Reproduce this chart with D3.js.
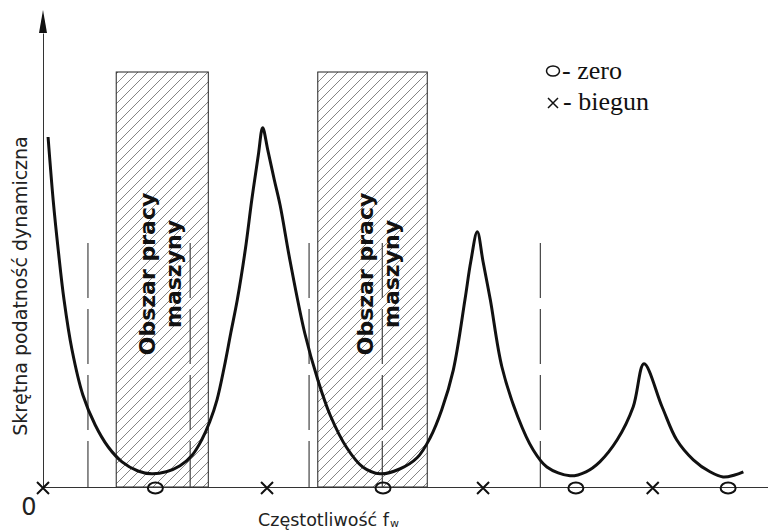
<!DOCTYPE html>
<html>
<head>
<meta charset="utf-8">
<script src="https://cdn.jsdelivr.net/npm/d3@7"></script>
<style>
  body { margin: 0; background: #fff; }
  svg { display: block; }
</style>
</head>
<body>
<div id="chart"></div>
<script>
const width = 768;
const height = 530;

// frequency (relative units) and torsional dynamic compliance
const freq = [0.7, 1.4, 2.1, 2.9, 4.0, 5.5, 7.2, 9.0, 10.9, 13.1, 15.0, 17.0, 18.9, 20.6, 21.9, 23.0, 24.0,
  25.0, 25.9, 26.8, 27.9, 28.8, 29.7, 30.3, 31.0, 31.9, 32.7, 34.1, 36.1, 37.9, 39.6, 41.9, 44.1, 46.5,
  49.2, 51.6, 53.4, 55.0, 56.6, 58.2, 59.0, 59.9, 60.7, 61.7, 63.3, 65.5, 67.6, 69.5, 72.7, 74.9, 76.8,
  79.2, 81.4, 82.9, 85.4, 87.4, 89.7, 92.0, 93.8, 95.4, 96.6];
const compliance = [87.5, 71.8, 59.3, 46.8, 34.3, 23.0, 15.5, 10.0, 6.3, 4.0, 3.3, 3.8, 5.3, 8.0, 11.8, 16.3, 21.8,
  30.0, 38.5, 46.8, 59.3, 71.8, 83.0, 89.8, 84.3, 76.8, 70.5, 56.3, 38.5, 26.8, 18.0, 9.8, 5.0, 3.3,
  4.5, 7.3, 12.3, 19.3, 29.3, 46.8, 56.3, 63.8, 56.3, 46.8, 30.0, 17.5, 9.3, 5.0, 2.8, 3.8, 6.3,
  11.8, 20.0, 30.8, 20.0, 11.8, 6.8, 3.8, 2.5, 3.0, 3.8];

const zeros = [15.5, 46.9, 73.5, 94.5];
const poles = [0, 30.9, 60.7, 84.1];
const workZones = [[10.1, 22.8], [37.9, 53.0]];
const dashFreqs = [6.2, 20.3, 36.7, 46.8, 68.6];
const zoneLabel = ["Obszar pracy", "maszyny"];
const yLabel = "Skrętna podatność dynamiczna";
const xLabel = "Częstotliwość f";
const xLabelSub = "w";
const legendItems = ["- zero", "- biegun"];

const zoneTop = 103.75;   // top of hatched boxes (compliance units)
const dashTop = 61;       // top of dashed markers
const axisTop = 113.5;    // base of the arrow head

const x = d3.scaleLinear().domain([0, 100]).range([43, 768]);
const y = d3.scaleLinear().domain([0, 100]).range([487, 87]);

const svg = d3.select("#chart")
    .append("svg")
    .attr("width", width)
    .attr("height", height)
    .attr("viewBox", [0, 0, width, height]);

// hatch pattern
const defs = svg.append("defs");
const pat = defs.append("pattern")
    .attr("id", "hatch")
    .attr("patternUnits", "userSpaceOnUse")
    .attr("width", 10)
    .attr("height", 10);
pat.append("path")
    .attr("d", "M-2,2 L2,-2 M0,10 L10,0 M8,12 L12,8")
    .attr("stroke", "#666")
    .attr("stroke-width", 0.8);

// working zones
svg.append("g")
  .selectAll("rect")
  .data(workZones)
  .join("rect")
    .attr("x", d => x(d[0]))
    .attr("y", y(zoneTop))
    .attr("width", d => x(d[1]) - x(d[0]))
    .attr("height", y(0) - y(zoneTop))
    .attr("fill", "url(#hatch)")
    .attr("stroke", "#222")
    .attr("stroke-width", 1);

// dashed markers
svg.append("g")
  .selectAll("line")
  .data(dashFreqs)
  .join("line")
    .attr("x1", d => x(d))
    .attr("x2", d => x(d))
    .attr("y1", y(dashTop))
    .attr("y2", y(0))
    .attr("stroke", "#444")
    .attr("stroke-width", 1.2)
    .attr("stroke-dasharray", "55,11");

// zone labels
const labelDx = [39, 55];
workZones.forEach((z, i) => {
  const g = svg.append("g")
      .attr("transform", `translate(${x(z[0])},274) rotate(-90)`);
  g.selectAll("text")
    .data(zoneLabel)
    .join("text")
      .attr("x", 0)
      .attr("y", (d, j) => labelDx[i] + j * 26)
      .attr("text-anchor", "middle")
      .attr("font-family", "DejaVu Sans")
      .attr("font-weight", "bold")
      .attr("font-size", 22)
      .attr("fill", "#111")
      .text(d => d);
});

// axes
svg.append("g")
    .attr("transform", `translate(0,${y(0)})`)
    .attr("color", "#333")
    .call(d3.axisBottom(x).tickValues([]).tickSizeOuter(0));

svg.append("g")
    .attr("transform", `translate(${x(0)},0)`)
    .attr("color", "#333")
    .call(d3.axisLeft(y.copy().domain([0, axisTop]).range([y(0), y(axisTop)])).tickValues([]).tickSizeOuter(0));

svg.append("path")
    .attr("d", `M${x(0)},${y(axisTop) - 23} L${x(0) - 4},${y(axisTop)} L${x(0) + 4},${y(axisTop)} Z`)
    .attr("fill", "#111");

// curve
const line = d3.line()
    .x((d, i) => x(freq[i]))
    .y(d => y(d))
    .curve(d3.curveCatmullRom.alpha(0.5));

svg.append("path")
    .datum(compliance)
    .attr("d", line)
    .attr("fill", "none")
    .attr("stroke", "#111")
    .attr("stroke-width", 3)
    .attr("stroke-linejoin", "round");

// zeros and poles
svg.append("g")
  .selectAll("ellipse")
  .data(zeros)
  .join("ellipse")
    .attr("cx", d => x(d))
    .attr("cy", y(0) + 1)
    .attr("rx", 7.5)
    .attr("ry", 5.5)
    .attr("fill", "none")
    .attr("stroke", "#111")
    .attr("stroke-width", 2);

const cross = s => `M${-s},${-s}L${s},${s}M${-s},${s}L${s},${-s}`;
svg.append("g")
  .selectAll("path")
  .data(poles)
  .join("path")
    .attr("transform", d => `translate(${x(d)},${y(0) + 1})`)
    .attr("d", cross(6))
    .attr("stroke", "#111")
    .attr("stroke-width", 2);

// axis labels
svg.append("text")
    .attr("transform", `translate(27,286) rotate(-90)`)
    .attr("text-anchor", "middle")
    .attr("font-family", "DejaVu Sans")
    .attr("font-size", 19)
    .attr("fill", "#222")
    .text(yLabel);

const xl = svg.append("text")
    .attr("x", 258)
    .attr("y", 526)
    .attr("font-family", "DejaVu Sans")
    .attr("font-size", 17.5)
    .attr("fill", "#222")
    .text(xLabel);
xl.append("tspan")
    .attr("font-size", 11)
    .attr("dy", 1)
    .attr("dx", 1)
    .text(xLabelSub);

svg.append("text")
    .attr("x", 29)
    .attr("y", 515)
    .attr("text-anchor", "middle")
    .attr("font-family", "DejaVu Sans")
    .attr("font-size", 24)
    .attr("fill", "#222")
    .text("0");

// legend
const legend = svg.append("g")
    .attr("font-family", "Liberation Serif")
    .attr("font-size", 26)
    .attr("fill", "#111");

legend.append("ellipse")
    .attr("cx", 553)
    .attr("cy", 71)
    .attr("rx", 6.5)
    .attr("ry", 5)
    .attr("fill", "none")
    .attr("stroke", "#111")
    .attr("stroke-width", 1.5);
legend.append("path")
    .attr("transform", "translate(553,103)")
    .attr("d", cross(5))
    .attr("stroke", "#111")
    .attr("stroke-width", 1.5);

legend.selectAll("text")
  .data(legendItems)
  .join("text")
    .attr("x", (d, i) => i === 0 ? 562 : 563)
    .attr("y", (d, i) => i === 0 ? 79 : 110)
    .text(d => d);
</script>
</body>
</html>
